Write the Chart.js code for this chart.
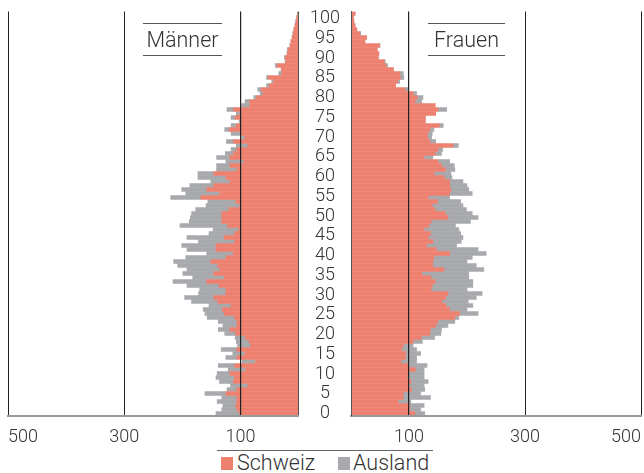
<!DOCTYPE html>
<html>
<head>
<meta charset="utf-8">
<script src="https://cdn.jsdelivr.net/npm/chart.js@4"></script>
<style>
  body { margin: 0; background: #fff; }
  #wrap { position: relative; width: 644px; height: 473px; font-family: Roboto, "Liberation Sans", sans-serif; font-weight: 300; color: #333; }
  .box { position: absolute; top: 0; height: 450px; }
  .title { position: absolute; top: 23px; height: 31px; line-height: 31px; border-top: 1px solid #555; border-bottom: 1px solid #555; font-size: 21.5px; text-align: center; }
  #legend { position: absolute; left: 217px; top: 450px; width: 216px; height: 23px; border-top: 1px solid #666; font-size: 21.5px; line-height: 23px; white-space: nowrap; }
  #legend span { position: absolute; top: 0; }
  #legend span.sw { top: 6px; width: 12px; height: 13px; }
</style>
</head>
<body>
<div id="wrap">
  <div class="box" style="left:0;width:300px"><canvas id="men"></canvas></div>
  <div class="box" style="left:298px;width:346px"><canvas id="women"></canvas></div>
  <div class="title" style="left:143px;width:79px">Männer</div>
  <div class="title" style="left:428px;width:77px">Frauen</div>
  <div id="legend">
    <span class="sw" style="left:4px;background:#ee8070"></span><span style="left:20px">Schweiz</span>
    <span class="sw" style="left:121px;background:#a7a9ac"></span><span style="left:136px">Ausland</span>
  </div>
</div>
<script>
// ages 0..100, values per age (persons)
const ages = Array.from({ length: 101 }, (_, i) => i);
const ageTicks = [0, 5, 10, 15, 20, 25, 30, 35, 40, 45, 50, 55, 60, 65, 70, 75, 80, 85, 90, 95, 100];
const xTicks = [0, 100, 300, 500];

const menSchweiz = [
  101, 106, 108, 106, 106, 125, 106, 87, 112, 110,
  118, 91, 110, 74, 106, 92, 106, 82, 85, 92,
  108, 118, 106, 106, 110, 128, 131, 116, 139, 146,
  125, 125, 137, 158, 128, 146, 135, 139, 151, 125,
  112, 142, 142, 110, 128, 110, 103, 122, 132, 132,
  132, 120, 101, 108, 168, 136, 158, 146, 118, 125,
  146, 106, 118, 94, 118, 112, 106, 87, 112, 92,
  100, 119, 107, 98, 109, 101, 112, 84, 84, 72,
  61, 64, 50, 43, 52, 29, 29, 37, 22, 23,
  19, 18, 14, 13, 11, 9, 8, 6, 4, 3, 1
];
const menAusland = [
  41, 26, 22, 34, 26, 36, 17, 30, 24, 32,
  22, 30, 28, 23, 19, 21, 27, 23, 22, 17,
  19, 20, 24, 32, 47, 33, 33, 38, 45, 50,
  47, 45, 55, 58, 54, 53, 57, 69, 64, 69,
  46, 50, 59, 62, 64, 44, 44, 82, 56, 54,
  52, 57, 58, 48, 52, 58, 43, 41, 33, 48,
  27, 35, 23, 31, 23, 14, 10, 20, 12, 6,
  16, 8, 9, 4, 7, 6, 11, 14, 8, 5,
  5, 6, 5, 3, 3, 5, 1, 3, 1, 1,
  1, 1, 1, 0, 0, 1, 0, 0, 1, 0, 1
];
const womenSchweiz = [
  110, 101, 101, 81, 90, 90, 104, 100, 103, 97,
  98, 111, 98, 86, 94, 94, 87, 90, 107, 121,
  136, 137, 146, 150, 179, 187, 170, 164, 157, 163,
  167, 138, 140, 145, 138, 122, 160, 141, 141, 143,
  170, 147, 130, 141, 133, 137, 126, 134, 138, 167,
  163, 145, 140, 149, 133, 170, 172, 170, 170, 161,
  143, 163, 156, 150, 126, 145, 150, 176, 136, 132,
  132, 136, 152, 128, 128, 146, 150, 145, 110, 114,
  107, 93, 77, 80, 85, 84, 73, 60, 57, 47,
  48, 45, 49, 24, 27, 15, 10, 7, 5, 4, 7
];
const womenAusland = [
  17, 19, 25, 22, 47, 30, 23, 26, 30, 29,
  28, 15, 33, 27, 19, 26, 26, 17, 16, 23,
  19, 19, 21, 29, 7, 32, 30, 46, 45, 53,
  59, 62, 70, 65, 65, 81, 69, 75, 59, 66,
  63, 72, 52, 49, 60, 52, 60, 46, 68, 52,
  46, 54, 53, 40, 37, 39, 31, 30, 23, 13,
  29, 16, 22, 20, 15, 11, 8, 9, 10, 7,
  8, 7, 7, 0, 0, 0, 15, 0, 12, 10,
  6, 6, 0, 4, 6, 6, 0, 3, 2, 0,
  0, 0, 1, 0, 0, 2, 0, 0, 0, 0, 0
];

const SALMON = '#ee8070';
const GRAY = '#a7a9ac';
const FONT = { family: 'Roboto, "Liberation Sans", sans-serif', size: 18, weight: 300 };

function datasets(schweiz, ausland) {
  return [
    { label: 'Schweiz', data: schweiz, backgroundColor: SALMON },
    { label: 'Ausland', data: ausland, backgroundColor: GRAY }
  ];
}

function xScale(reverse) {
  return {
    stacked: true,
    min: 0,
    max: 500,
    reverse: reverse,
    afterBuildTicks: axis => { axis.ticks = xTicks.map(v => ({ value: v })); },
    afterFit: axis => { axis.height = 34.5; },
    ticks: {
      align: 'inner',
      padding: 0,
      color: '#333',
      font: FONT,
      callback: v => v === 0 ? '' : v
    },
    grid: {
      z: 1,
      drawTicks: true,
      tickLength: 11,
      tickColor: 'rgba(0,0,0,0)',
      color: ctx => ctx.tick && ctx.tick.value === 0 ? '#555' : '#222',
      lineWidth: ctx => ctx.tick && ctx.tick.value === 100 ? 1.2 : 1
    },
    border: { color: '#9a9a9a', width: 2, z: 1 }
  };
}

const common = {
  indexAxis: 'y',
  responsive: true,
  maintainAspectRatio: false,
  animation: false,
  datasets: { bar: { categoryPercentage: 1, barPercentage: 1, borderWidth: 0 } },
  plugins: { legend: { display: false }, tooltip: { enabled: false } }
};

new Chart(document.getElementById('men'), {
  type: 'bar',
  data: { labels: ages, datasets: datasets(menSchweiz, menAusland) },
  options: {
    ...common,
    layout: { padding: { left: 8, right: 1.5, top: 11.5, bottom: 0 } },
    scales: {
      x: xScale(true),
      y: { stacked: true, reverse: true, display: false }
    }
  }
});

new Chart(document.getElementById('women'), {
  type: 'bar',
  data: { labels: ages, datasets: datasets(womenSchweiz, womenAusland) },
  options: {
    ...common,
    layout: { padding: { left: 0, right: 3, top: 11.5, bottom: 0 } },
    scales: {
      x: xScale(false),
      y: { stacked: true, reverse: true, display: false },
      // age labels sit a little lower than the bar centres in the original
      ageAxis: {
        type: 'linear',
        axis: 'y',
        position: 'left',
        offset: false,
        min: -0.45,
        max: 101.8,
        afterBuildTicks: axis => { axis.ticks = ageTicks.map(v => ({ value: v })); },
        afterFit: axis => { axis.width = 53; },
        ticks: {
          autoSkip: false,
          crossAlign: 'center',
          padding: 0,
          color: '#333',
          font: FONT
        },
        grid: { display: false, offset: false, drawTicks: true, tickLength: 11 },
        border: { color: '#555', width: 1, z: 1 }
      }
    }
  }
});
</script>
</body>
</html>
